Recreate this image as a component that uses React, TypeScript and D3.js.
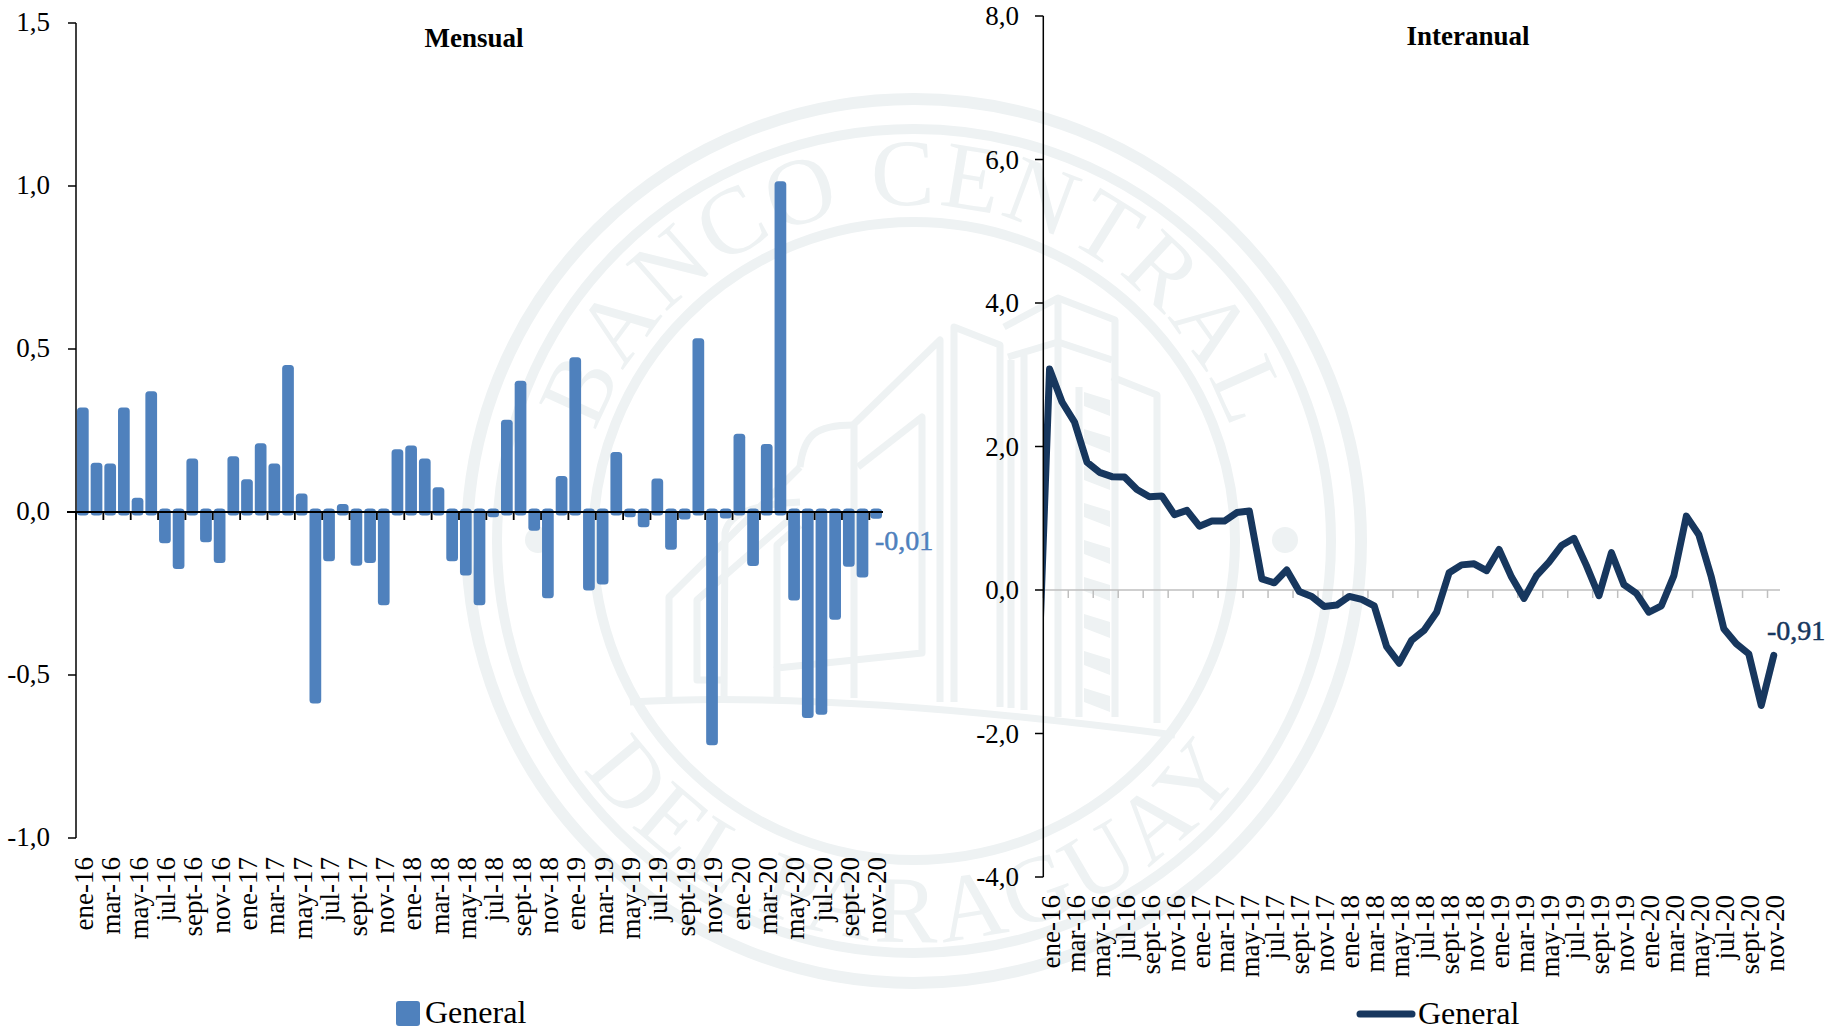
import React from "react";
import * as d3 from "d3";

const MONTHS = ["ene", "feb", "mar", "abr", "may", "jun", "jul", "ago", "sept", "oct", "nov", "dic"];
const YEARS = ["16", "17", "18", "19", "20"];
const categories: string[] = YEARS.flatMap((y) => MONTHS.map((m) => `${m}-${y}`)).slice(0, 59);

const mensual = [
  0.31, 0.14, 0.138, 0.31, 0.033, 0.36, -0.085, -0.164, 0.153, -0.082, -0.146, 0.16,
  0.09, 0.2, 0.138, 0.44, 0.046, -0.577, -0.14, 0.014, -0.154, -0.146, -0.275, 0.182,
  0.193, 0.153, 0.065, -0.14, -0.184, -0.275, -0.005, 0.272, 0.392, -0.047, -0.254, 0.1,
  0.464, -0.23, -0.212, 0.173, -0.005, -0.036, 0.092, -0.105, -0.012, 0.522, -0.705, -0.009,
  0.229, -0.155, 0.198, 1.004, -0.261, -0.621, -0.611, -0.32, -0.157, -0.19, -0.01,
];
const interanual = [
  3.08, 2.62, 2.34, 1.78, 1.64, 1.58, 1.575, 1.4, 1.3, 1.31, 1.05, 1.11,
  0.89, 0.96, 0.96, 1.08, 1.1, 0.155, 0.1, 0.28, -0.02, -0.09, -0.23, -0.21,
  -0.09, -0.13, -0.22, -0.79, -1.02, -0.7, -0.56, -0.31, 0.24, 0.35, 0.365, 0.27,
  0.565, 0.18, -0.117, 0.2, 0.39, 0.62, 0.72, 0.34, -0.08, 0.52, 0.075, -0.047,
  -0.31, -0.22, 0.2, 1.03, 0.77, 0.18, -0.54, -0.75, -0.89, -1.61, -0.91,
];
const interanualPrevious = -1.7;

const mensualTicks = [-1, -0.5, 0, 0.5, 1, 1.5];
const interanualTicks = [-4, -2, 0, 2, 4, 6, 8];

const FONT = "'Liberation Serif', serif";
const BAR = "#4f81bd";
const LINE = "#17375e";
const WM = "#eef2f3";
const fmt = (v: number) => v.toFixed(1).replace(".", ",");

function Watermark() {
  const cx = 914;
  const cy = 541;
  const rTop = 336;
  const rBot = 401;
  const arc = (r: number, a0: number, a1: number, sweep: number) => {
    const p = (a: number) => [cx + r * Math.sin((a * Math.PI) / 180), cy - r * Math.cos((a * Math.PI) / 180)];
    const [x0, y0] = p(a0);
    const [x1, y1] = p(a1);
    return `M${x0},${y0} A${r},${r} 0 0 ${sweep} ${x1},${y1}`;
  };
  const lines: [number, number][][] = [
    [[669, 698], [669, 597], [800, 467]],
    [[854, 698], [854, 424], [940, 340], [940, 702]],
    [[858, 467], [922, 417], [922, 653], [777, 668], [777, 702]],
    [[777, 668], [777, 545], [800, 525]],
    [[722, 680], [697, 680], [697, 600], [800, 510]],
    [[954, 702], [954, 327], [1000, 345], [1000, 707]],
    [[1008, 357], [1058, 342], [1112, 360]],
    [[1004, 327], [1058, 298], [1115, 320], [1115, 717]],
    [[1112, 377], [1157, 395], [1157, 723]],
    [[1058, 300], [1058, 717]],
    [[1011, 360], [1011, 708]],
    [[1024, 355], [1024, 710]],
    [[1079, 387], [1079, 717]],
  ];
  const line = d3.line();
  const blocks = d3.range(0, 9);
  return (
    <g fill="none" stroke={WM}>
      <ellipse cx={cx} cy={cy} rx={447} ry={442} strokeWidth={12} />
      <ellipse cx={cx} cy={cy} rx={417} ry={412} strokeWidth={10} />
      <ellipse cx={cx} cy={cy} rx={321} ry={319} strokeWidth={10} />
      <circle cx={538} cy={540} r={13} fill={WM} stroke="none" />
      <circle cx={1285} cy={540} r={13} fill={WM} stroke="none" />
      <defs>
        <path id="wmTop" d={arc(rTop, -85, 85, 1)} />
        <path id="wmBot" d={arc(rBot, 235, 125, 0)} />
      </defs>
      <text fontFamily={FONT} fontSize={95} fill={WM} stroke="none" textAnchor="middle" letterSpacing={3}>
        <textPath href="#wmTop" startOffset="50%">BANCO CENTRAL</textPath>
      </text>
      <text fontFamily={FONT} fontSize={95} fill={WM} stroke="none" textAnchor="middle" letterSpacing={5}>
        <textPath href="#wmBot" startOffset="50%">DEL PARAGUAY</textPath>
      </text>
      <path d="M630,702 Q830,690 1175,735" strokeWidth={7} />
      {lines.map((l, i) => (
        <path key={i} d={line(l) as string} strokeWidth={7} strokeLinejoin="round" />
      ))}
      <path d="M800,467 C804,435 815,425 854,425" strokeWidth={7} />
      <path d="M724,698 L725,533 Q730,505 800,502" strokeWidth={7} />
      {blocks.map((b) => {
        const y = 392 + b * 37;
        return (
          <path
            key={b}
            d={`M1084,${y} L1110,${y + 8} L1110,${y + 24} L1084,${y + 14} Z`}
            fill={WM}
            stroke="none"
          />
        );
      })}
    </g>
  );
}

function Mensual() {
  const x = d3.scaleBand<string>().domain(categories).range([76, 883]);
  const y = d3.scaleLinear().domain([-1, 1.5]).range([838, 23]);
  const bw = x.bandwidth() * 0.345;
  const tickCats = categories.filter((_, i) => i % 2 === 0);
  return (
    <g fontFamily={FONT}>
      <text x={474} y={47} fontSize={27} fontWeight="bold" textAnchor="middle" fill="#000">Mensual</text>
      {mensual.map((v, i) => {
        const c = categories[i];
        const x0 = (x(c) as number) + (x.bandwidth() - bw) / 2;
        return (
          <rect
            key={c}
            x={x0}
            width={bw}
            y={y(Math.max(v, 0))}
            height={Math.abs(y(v) - y(0))}
            fill={BAR}
            stroke={BAR}
            strokeWidth={7}
            strokeLinejoin="round"
          />
        );
      })}
      <line x1={76} x2={76} y1={y(1.5)} y2={y(-1)} stroke="#000" strokeWidth={1.5} />
      {mensualTicks.map((t) => (
        <g key={t}>
          <line x1={68} x2={76} y1={y(t)} y2={y(t)} stroke="#000" strokeWidth={1.5} />
          <text x={50} y={y(t) + 8} fontSize={27} textAnchor="end" fill="#000">{fmt(t)}</text>
        </g>
      ))}
      <line x1={67} x2={883} y1={y(0)} y2={y(0)} stroke="#000" strokeWidth={2} />
      {tickCats.map((c) => (
        <g key={c}>
          <line x1={x(c)} x2={x(c)} y1={y(0)} y2={y(0) + 8} stroke="#000" strokeWidth={1.8} />
          <text
            transform={`translate(${(x(c) as number) + x.bandwidth() / 2 + 1.5},857) rotate(-90)`}
            dy="0.32em"
            fontSize={27}
            textAnchor="end"
            fill="#000"
          >
            {c}
          </text>
        </g>
      ))}
      <text x={875} y={550} fontSize={28} fill={BAR} stroke={BAR} strokeWidth={0.5}>-0,01</text>
      <rect x={396} y={1001} width={24} height={25} rx={3} fill={BAR} />
      <text x={425} y={1023} fontSize={32} fill="#000">General</text>
    </g>
  );
}

function Interanual() {
  const x = d3.scaleBand<string>().domain(categories).range([1043.3, 1780]);
  const y = d3.scaleLinear().domain([-4, 8]).range([877, 16]);
  const tickCats = categories.filter((_, i) => i % 2 === 0);
  const cx = (c: string) => (x(c) as number) + x.bandwidth() / 2;
  const pts: [number, number][] = interanual.map((v, i) => [cx(categories[i]), y(v)]);
  pts.unshift([cx(categories[0]) - x.step(), y(interanualPrevious)]);
  const path = d3.line()(pts) as string;
  return (
    <g fontFamily={FONT}>
      <text x={1468} y={45} fontSize={27} fontWeight="bold" textAnchor="middle" fill="#000">Interanual</text>
      <defs>
        <clipPath id="plotR">
          <rect x={1043.3} y={0} width={760} height={900} />
        </clipPath>
      </defs>
      <line x1={1043.3} x2={1780} y1={y(0)} y2={y(0)} stroke="#bfbfbf" strokeWidth={1.5} />
      {tickCats.map((c) => (
        <g key={c}>
          <line x1={x(c)} x2={x(c)} y1={y(0)} y2={y(0) + 8} stroke="#bfbfbf" strokeWidth={1.5} />
          <text
            transform={`translate(${cx(c) + 1.5},895) rotate(-90)`}
            dy="0.32em"
            fontSize={27}
            textAnchor="end"
            fill="#000"
          >
            {c}
          </text>
        </g>
      ))}
      <path
        d={path}
        clipPath="url(#plotR)"
        fill="none"
        stroke={LINE}
        strokeWidth={7}
        strokeLinejoin="round"
        strokeLinecap="round"
      />
      <line x1={1043.3} x2={1043.3} y1={y(8)} y2={y(-4)} stroke="#000" strokeWidth={1.5} />
      {interanualTicks.map((t) => (
        <g key={t}>
          <line x1={1035} x2={1043.3} y1={y(t)} y2={y(t)} stroke="#000" strokeWidth={1.5} />
          <text x={1019} y={y(t) + 9} fontSize={27} textAnchor="end" fill="#000">{fmt(t)}</text>
        </g>
      ))}
      <text x={1767} y={640} fontSize={28} fill={LINE} stroke={LINE} strokeWidth={0.5}>-0,91</text>
      <line x1={1360} x2={1412} y1={1014} y2={1014} stroke={LINE} strokeWidth={7} strokeLinecap="round" />
      <text x={1418} y={1024} fontSize={32} fill="#000">General</text>
    </g>
  );
}

export default function App() {
  return (
    <svg
      width={1839}
      height={1028}
      viewBox="0 0 1839 1028"
      style={{ position: "absolute", left: 0, top: 0, display: "block", background: "#fff" }}
    >
      <Watermark />
      <Mensual />
      <Interanual />
    </svg>
  );
}
